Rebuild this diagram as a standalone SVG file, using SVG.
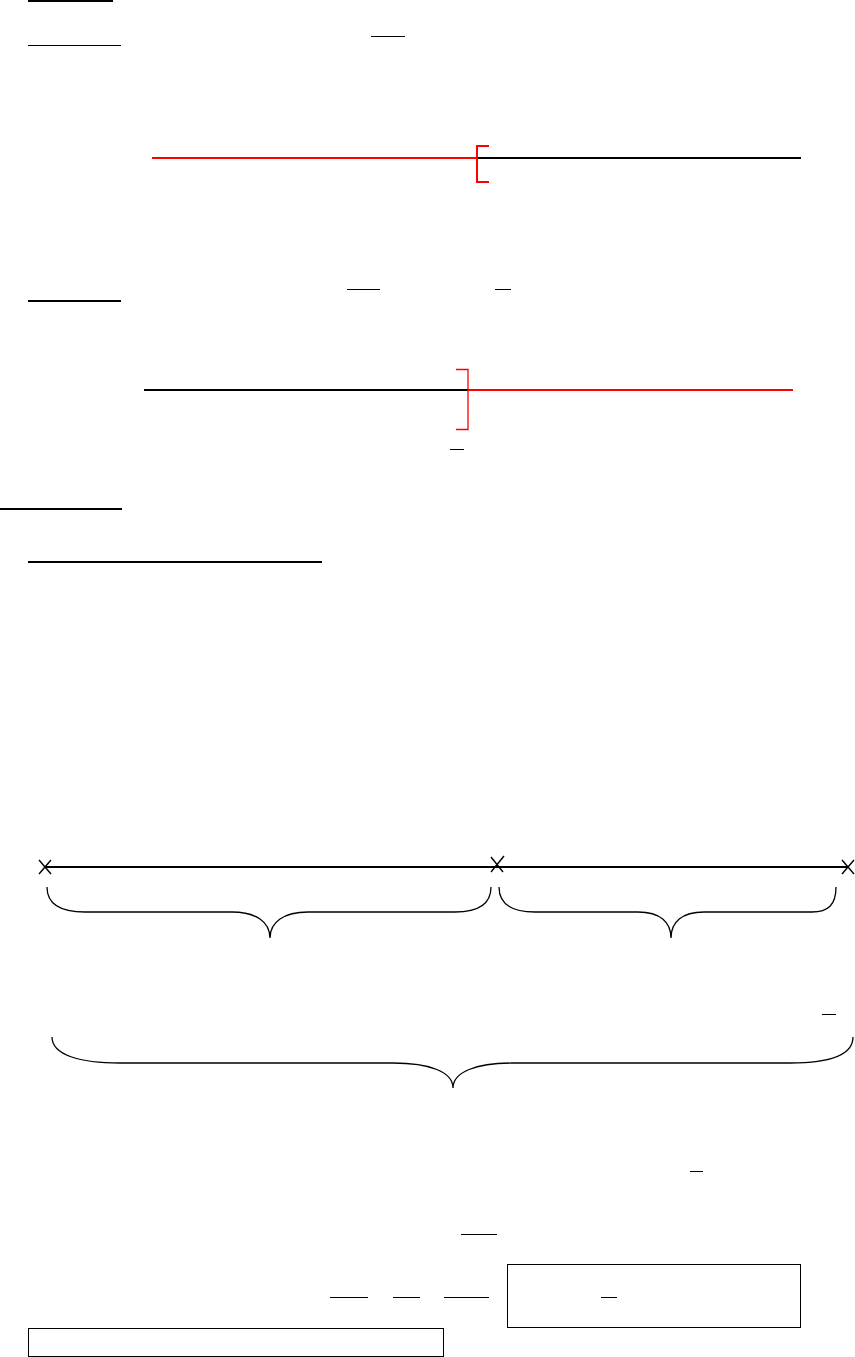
<svg xmlns="http://www.w3.org/2000/svg" width="855" height="1357" viewBox="0 0 855 1357">
<style>
.k1{stroke:#000;stroke-width:1;fill:none}
.k2{stroke:#000;stroke-width:2;fill:none}
.r2{stroke:#ff0000;stroke-width:2;fill:none}
.r1{stroke:#ff0000;stroke-width:1.3;fill:none}
.br{stroke:#000;stroke-width:1.3;fill:none}
.xm{stroke:#000;stroke-width:1.4;fill:none}
</style>
<rect width="855" height="1357" fill="#fff"/>
<g id="rules">
<line class="k2" x1="28" y1="1" x2="113" y2="1"/>
<line class="k1" x1="28" y1="45.5" x2="121" y2="45.5"/>
<line class="k1" x1="371" y1="36.5" x2="405" y2="36.5"/>
<line class="k2" x1="28" y1="301" x2="121" y2="301"/>
<line class="k1" x1="347" y1="289.5" x2="380" y2="289.5"/>
<line class="k1" x1="495" y1="289.5" x2="511" y2="289.5"/>
<line class="k1" x1="450" y1="449.5" x2="464" y2="449.5"/>
<line class="k2" x1="0" y1="509" x2="122" y2="509"/>
<line class="k2" x1="28" y1="562" x2="322" y2="562"/>
<line class="k1" x1="822" y1="1014.5" x2="836" y2="1014.5"/>
<line class="k1" x1="690" y1="1171.5" x2="703" y2="1171.5"/>
<line class="k1" x1="461" y1="1234.5" x2="497" y2="1234.5"/>
<line class="k1" x1="330" y1="1297.5" x2="368" y2="1297.5"/>
<line class="k1" x1="393" y1="1297.5" x2="420" y2="1297.5"/>
<line class="k1" x1="444" y1="1297.5" x2="489" y2="1297.5"/>
<line class="k1" x1="601" y1="1297.5" x2="617" y2="1297.5"/>
</g>
<g id="numberline1">
<line class="r2" x1="152" y1="158" x2="477" y2="158"/>
<line class="k2" x1="477" y1="158" x2="801" y2="158"/>
<path class="r2" d="M489,146 H477 V182 H489"/>
</g>
<g id="numberline2">
<line class="k2" x1="144" y1="390" x2="468" y2="390"/>
<line class="r2" x1="468" y1="390" x2="793" y2="390"/>
<path class="r1" d="M456,369.5 H468 V429.5 H456"/>
</g>
<g id="segment">
<line class="k2" x1="45" y1="867" x2="848" y2="867"/>
<path class="xm" d="M39,860 L51,874 M39,874 L51,860"/>
<path class="xm" d="M491,857 L503,872 M491,872 L504,856"/>
<path class="xm" d="M842,860 L854,874 M842,874 L854,860"/>
</g>
<g id="braces">
<path class="br" d="M47,887 C47,905 62,912 85,912 L232,912 C256,912 270,922 270,938 C270,922 284,912 308,912 L455,912 C478,912 491,905 491,887"/>
<path class="br" d="M499,887 C499,905 513,912 535,912 L638,912 C660,912 671,922 671,938 C671,922 682,912 704,912 L812,912 C828,912 836,905 836,887"/>
<path class="br" d="M52,1037 C52,1055 80,1063 120,1063 L393,1063 C430,1063 453,1072 453,1088 C453,1072 476,1063 513,1063 L790,1063 C830,1063 853,1055 853,1037"/>
</g>
<g id="boxes">
<rect class="k1" x="507.5" y="1264.5" width="293" height="63"/>
<rect class="k1" x="28.5" y="1328.5" width="415" height="28"/>
</g>
</svg>
